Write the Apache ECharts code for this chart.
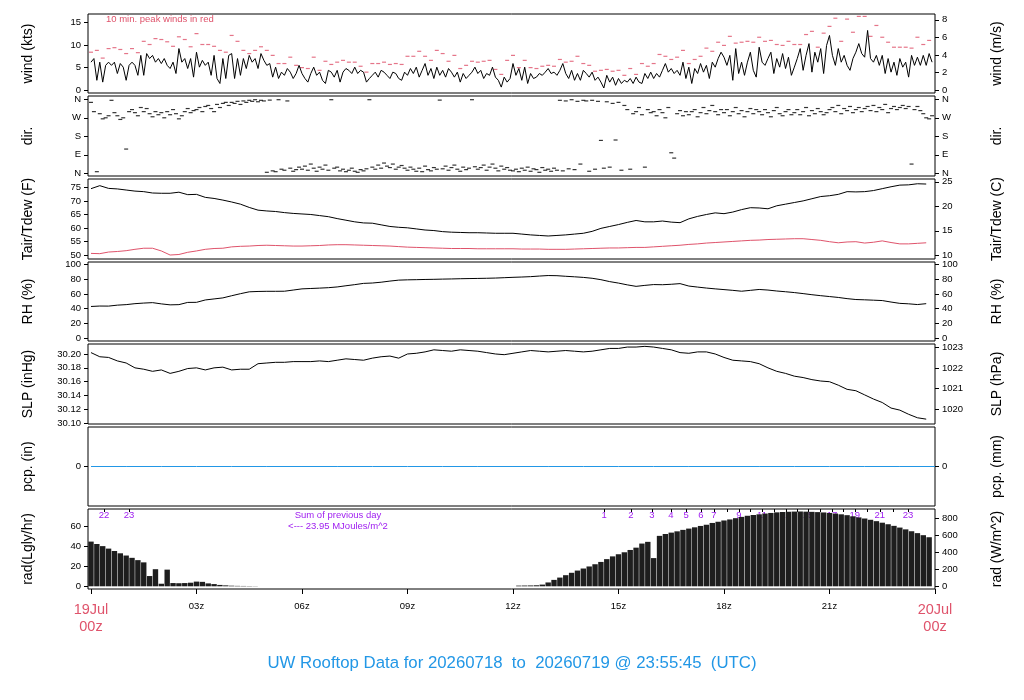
<!DOCTYPE html>
<html>
<head>
<meta charset="utf-8">
<title>UW Rooftop Data</title>
<script src="https://cdn.jsdelivr.net/npm/echarts@6.0.0/dist/echarts.min.js"></script>
<style>
  html, body { margin: 0; padding: 0; background: #fff; }
  #main { width: 1024px; height: 700px; }
</style>
</head>
<body>
<div id="main"></div>
<script>
// ---------- data ----------
// wind speed, knots, every 5 min from 00z
var windKts = [
  6.2,7.0,2.2,6.2,1.8,5.5,6.2,5.5,6.2,3.7,5.9,5.1,
  2.2,5.5,6.2,5.5,3.3,7.7,3.3,8.1,7.0,7.7,6.2,7.0,
  5.9,7.0,5.5,4.8,6.2,3.7,9.2,6.2,7.0,4.8,7.0,2.9,
  8.4,5.1,6.6,5.5,6.2,3.3,7.7,2.6,1.5,7.0,2.6,7.7,
  8.1,2.6,7.0,3.3,7.0,4.8,7.7,6.2,7.0,4.8,8.1,6.6,
  5.5,5.9,2.9,5.1,2.6,4.0,3.3,4.8,4.0,2.6,3.7,5.5,
  3.7,2.6,1.8,3.7,5.1,3.3,4.0,2.2,1.5,4.4,4.0,2.9,
  4.4,1.8,4.0,4.8,4.4,3.7,5.1,3.7,4.4,4.0,1.8,2.6,
  3.3,4.0,2.9,4.4,4.0,3.3,2.6,4.0,3.7,2.6,2.2,4.0,
  3.3,4.8,3.7,5.1,2.9,4.4,5.9,3.3,4.8,2.6,5.1,3.3,
  4.4,2.9,4.8,4.0,2.9,4.0,1.8,3.7,2.6,3.3,4.0,5.1,
  3.7,4.4,2.6,3.7,3.3,5.1,2.9,2.2,0.7,2.9,1.8,2.6,
  5.9,3.3,4.8,2.2,5.1,1.5,3.7,2.6,2.9,3.7,3.3,4.0,
  4.8,3.7,4.0,3.3,4.4,5.9,3.7,2.6,4.4,2.2,3.7,2.2,
  4.4,3.7,2.9,4.0,2.2,2.9,1.8,0.5,3.3,1.8,2.9,1.1,
  2.6,1.5,2.2,1.8,2.6,1.5,2.9,1.8,1.5,3.7,2.6,4.0,
  2.6,3.7,2.9,4.4,5.9,4.0,4.8,3.7,4.4,3.3,6.2,2.6,
  5.1,1.5,4.8,3.7,5.9,4.0,5.5,2.6,6.2,5.1,7.0,8.4,
  7.3,5.5,7.7,2.2,9.2,3.7,6.2,3.3,6.2,8.4,4.4,2.9,
  9.5,6.2,5.5,7.0,8.4,3.7,7.0,5.1,8.1,4.8,7.3,3.3,
  5.1,7.0,9.2,4.4,7.7,10.3,4.0,8.4,6.2,9.2,3.7,9.9,
  12.1,7.7,5.5,9.2,6.2,7.7,5.5,4.4,7.0,8.4,10.3,8.1,
  7.3,13.2,7.0,6.2,7.7,5.5,7.7,3.7,7.0,4.0,6.2,3.3,
  7.0,5.1,6.2,2.9,7.7,5.5,7.3,5.5,7.7,5.5,8.1,6.2
];
// 10-min peak wind, knots
var peakKts = [
  8.4,8.8,7.1,9.2,9.4,9.0,8.1,9.2,8.3,10.8,10.1,11.4,
  11.2,10.7,9.7,11.8,11.2,9.6,12.5,10.1,10.1,9.7,8.8,8.4,
  12.1,10.8,8.8,8.1,8.8,9.6,8.8,7.7,5.9,5.9,7.3,5.5,
  5.0,4.8,7.3,4.4,6.4,5.7,6.2,6.6,6.2,6.2,5.3,4.0,
  5.9,5.9,6.2,5.7,5.9,5.7,7.5,7.5,8.6,7.5,6.6,8.8,
  8.1,6.4,7.7,4.8,5.5,6.4,6.2,6.4,6.6,4.6,3.5,6.6,
  7.7,5.0,6.6,5.0,4.8,5.3,5.5,5.3,6.8,6.2,6.4,7.5,
  5.9,5.5,4.2,4.4,4.6,4.2,4.4,3.3,4.8,3.5,5.9,5.3,
  5.9,7.9,7.5,6.8,7.3,8.8,5.9,6.8,7.5,9.3,8.6,10.6,
  9.9,11.9,10.4,10.6,10.8,10.6,11.7,10.8,11.0,10.1,9.9,10.8,
  10.1,10.1,12.3,13.0,9.5,12.6,14.1,15.9,10.8,15.7,12.8,16.3,
  16.3,11.9,14.3,11.7,10.6,9.5,9.5,9.5,9.3,11.7,10.1,11.0
];
// wind direction, degrees, every 5 min
var dirDeg = [
  345,300,8,290,265,270,280,355,295,280,262,270,
  118,300,310,295,280,320,300,315,290,275,300,285,
  295,270,300,285,310,290,265,280,300,315,295,305,
  310,320,300,325,330,315,300,335,320,340,345,330,
  345,340,350,335,352,345,355,350,358,348,355,352,
  5,356,12,8,358,20,15,352,25,10,18,30,
  20,35,15,45,25,10,30,20,40,15,358,25,
  30,12,20,8,15,25,10,5,18,12,22,358,
  30,20,40,25,50,35,28,45,20,30,38,25,
  15,30,20,10,25,8,35,18,12,28,20,356,
  22,35,15,28,40,20,10,30,18,25,358,32,
  20,28,40,15,30,45,25,12,35,20,28,15,
  12,20,8,25,15,30,10,22,18,5,28,15,
  20,10,25,15,355,12,352,22,358,18,350,45,
  355,352,10,355,20,350,160,25,348,30,340,162,
  345,15,330,310,20,290,300,320,285,30,310,295,
  300,280,310,295,270,320,100,74,290,305,280,300,
  285,300,310,275,295,320,290,305,330,300,285,310,
  295,310,280,300,320,290,305,275,300,315,290,310,
  300,285,310,295,275,305,320,290,280,300,310,285,
  295,310,285,300,320,280,305,290,315,300,285,295,
  310,320,300,330,290,315,305,325,295,310,320,300,
  315,325,305,330,300,320,310,335,295,315,325,310,
  320,330,315,325,45,310,325,305,290,270,265,280
];
// every 15 min
var tairF = [
  74.5,75.6,74.6,74.4,74.0,73.6,73.4,72.9,
  72.8,72.8,73.2,72.3,72.4,71.3,70.9,70.3,
  69.6,68.8,67.6,66.6,66.3,66.1,65.7,65.4,
  65.2,65.0,64.6,64.2,63.5,62.9,62.3,61.9,
  61.8,61.2,60.6,60.3,60.1,59.7,59.3,59.1,
  58.7,58.5,58.4,58.3,58.3,58.2,58.1,58.1,
  58.1,57.8,57.5,57.3,57.1,57.3,57.5,57.8,
  58.1,58.8,59.9,60.6,61.3,62.1,62.8,62.3,
  62.3,62.6,62.2,62.0,63.4,64.3,65.0,65.6,
  65.3,65.9,66.8,67.5,67.4,67.1,68.2,68.8,
  69.4,70.0,70.8,71.6,71.9,72.4,73.4,73.3,
  73.4,73.8,74.5,75.2,75.8,75.9,76.3,76.2
];
var tdewF = [
  50.7,50.6,51.2,51.4,51.7,52.2,52.6,52.6,
  51.6,50.1,50.3,51.1,51.6,52.2,52.5,52.6,
  53.1,53.3,53.4,53.6,53.7,53.6,53.5,53.4,
  53.4,53.5,53.6,53.8,53.9,53.9,53.8,53.7,
  53.6,53.5,53.4,53.2,53.0,52.9,52.8,52.7,
  52.6,52.5,52.5,52.5,52.4,52.4,52.4,52.4,
  52.4,52.3,52.3,52.3,52.2,52.2,52.2,52.3,
  52.4,52.5,52.6,52.7,52.7,52.8,52.9,52.9,
  53.1,53.3,53.5,53.7,54.0,54.2,54.5,54.7,
  54.9,55.1,55.3,55.5,55.6,55.8,55.9,56.0,
  56.1,56.1,55.8,55.5,55.0,54.6,54.9,55.0,
  54.5,54.8,55.3,54.7,54.2,54.2,54.4,54.6
];
var rhPct = [
  43.0,43.6,43.5,44.8,45.5,46.8,47.6,48.2,
  46.5,45.2,45.5,48.5,48.6,51.8,53.2,54.6,
  57.5,60.3,62.8,63.3,63.5,63.5,63.6,65.2,
  66.8,67.3,67.8,68.4,69.4,71.0,72.5,74.2,
  74.7,75.8,77.3,78.6,79.0,79.2,79.5,79.7,
  80.0,80.2,80.5,80.7,80.9,81.1,81.4,81.9,
  82.4,82.8,83.3,84.1,84.8,84.6,83.8,83.1,
  82.3,81.1,79.2,76.6,74.6,72.2,70.2,71.5,
  72.6,72.4,73.0,73.9,70.6,69.2,67.9,66.8,
  65.8,64.8,63.6,64.8,66.0,65.2,63.9,62.9,
  61.8,60.4,58.9,57.6,56.4,55.2,53.6,52.4,
  52.0,51.5,51.0,49.0,47.2,46.6,45.6,46.8
];
var slpInHg = [
  30.202,30.196,30.195,30.190,30.187,30.180,30.178,30.175,
  30.177,30.172,30.175,30.179,30.180,30.177,30.180,30.181,
  30.177,30.178,30.178,30.186,30.187,30.188,30.188,30.189,
  30.189,30.189,30.190,30.189,30.191,30.193,30.192,30.191,
  30.194,30.196,30.197,30.194,30.200,30.201,30.203,30.206,
  30.205,30.204,30.206,30.205,30.204,30.202,30.200,30.199,
  30.201,30.203,30.205,30.204,30.203,30.204,30.205,30.204,
  30.203,30.204,30.206,30.208,30.208,30.210,30.210,30.211,
  30.210,30.208,30.206,30.202,30.201,30.203,30.203,30.200,
  30.195,30.191,30.190,30.189,30.186,30.180,30.175,30.172,
  30.168,30.166,30.163,30.161,30.160,30.155,30.149,30.147,
  30.141,30.135,30.130,30.122,30.119,30.113,30.108,30.106
];
// hourly precipitation, inches
var pcpIn = [0,0,0,0,0,0,0,0,0,0,0,0,0,0,0,0,0,0,0,0,0,0,0,0,0];
// solar radiation, W/m^2, every 10 min
var radWm2 = [
  523,495,470,441,413,386, 360,333,306,280,120,200,
  30,195,38,36,38,42, 55,52,34,26,16,11,
  7,5,4,3,2,0, 0,0,0,0,0,0,
  0,0,0,0,0,0, 0,0,0,0,0,0,
  0,0,0,0,0,0, 0,0,0,0,0,0,
  0,0,0,0,0,0, 0,0,0,0,0,0,
  0,8,9,10,12,20, 45,75,102,130,158,184,
  208,232,258,285,318,350, 375,398,425,452,500,520,
  330,590,612,628,643,660, 675,690,706,720,741,755,
  770,782,797,812,825,834, 842,851,858,865,869,872,
  874,875,873,871,868,864, 858,851,842,832,819,806,
  793,778,762,744,726,707, 687,666,644,622,598,574
];
// cumulative MJ/m^2 markers (hour of day, label)
var mjHours = [0.37,1.08,14.59,15.35,15.95,16.49,16.92,17.34,17.71,18.08,18.42,18.75,19.08,
               19.42,19.76,20.08,20.39,20.73,21.07,21.40,21.72,22.07,22.43,22.82,23.23];
var mjText  = ['22','23','1','2','3','4','5','6','7','','9','','11',
               '','13','','15','','17','','19','','21','','23'];
var xTickHours = [0,3,6,9,12,15,18,21,24];
var xTickText  = ['19Jul\n00z','03z','06z','09z','12z','15z','18z','21z','20Jul\n00z'];

// ---------- helpers ----------
function toXY(arr, stepMin) {
  return arr.map(function (v, i) { return [i * stepMin / 60, v]; });
}
var FONT = 'Liberation Sans, Arial, Helvetica, sans-serif';
var RED = '#DF536B', BLUE = '#2297E6', PURPLE = '#A020F0';
var compass = {0: 'N', 90: 'E', 180: 'S', 270: 'W', 360: 'N'};

var panels = [
  {top: 14,  h: 79, ln: 'wind (kts)', rn: 'wind (m/s)', lmin: -0.6, lmax: 16.83, lt: [0,5,10,15],
   rmin: -0.309, rmax: 8.657, rt: [0,2,4,6,8]},
  {top: 96,  h: 80, ln: 'dir.', rn: 'dir.', lmin: -13, lmax: 376, lt: [0,90,180,270,360],
   rmin: -13, rmax: 376, rt: [0,90,180,270,360], fmt: function (v) { return compass[v]; }},
  {top: 179, h: 80, ln: 'Tair/Tdew (F)', rn: 'Tair/Tdew (C)', lmin: 48.64, lmax: 78.05, lt: [50,55,60,65,70,75],
   rmin: 9.24, rmax: 25.58, rt: [10,15,20,25]},
  {top: 262, h: 79, ln: 'RH (%)', rn: 'RH (%)', lmin: -3.65, lmax: 103.1, lt: [0,20,40,60,80,100],
   rmin: -3.65, rmax: 103.1, rt: [0,20,40,60,80,100]},
  {top: 344, h: 80, ln: 'SLP (inHg)', rn: 'SLP (hPa)', lmin: 30.099, lmax: 30.2144,
   lt: [30.10,30.12,30.14,30.16,30.18,30.20], lfmt: function (v) { return v.toFixed(2); },
   rmin: 1019.28, rmax: 1023.18, rt: [1020,1021,1022,1023]},
  {top: 427, h: 79, ln: 'pcp. (in)', rn: 'pcp. (mm)', lmin: -1, lmax: 1, lt: [0],
   rmin: -25.4, rmax: 25.4, rt: [0]},
  {top: 509, h: 80, ln: 'rad(Lgly/hr)', rn: 'rad (W/m^2)', lmin: -2.72, lmax: 77.8, lt: [0,20,40,60],
   rmin: -31.6, rmax: 904.2, rt: [0,200,400,600,800]}
];

var grids = [], xAxes = [], yAxes = [];
panels.forEach(function (p, i) {
  grids.push({left: 88, width: 847, top: p.top, height: p.h, show: true,
              borderColor: '#000', borderWidth: 1, containLabel: false});
  var last = i === panels.length - 1;
  xAxes.push({
    gridIndex: i, type: 'value', min: -0.085, max: 24,
    axisLine: {show: false, onZero: false}, splitLine: {show: false},
    axisTick: {show: last, length: 5, lineStyle: {color: '#000'}, customValues: xTickHours},
    axisLabel: {
      show: last, margin: 12, customValues: xTickHours,
      formatter: function (v) {
        var t = xTickText[xTickHours.indexOf(v)] || '';
        if (t.indexOf('\n') >= 0) {
          var s = t.split('\n');
          return '{d|' + s[0] + '}\n{d|' + s[1] + '}';
        }
        return '{s|' + t + '}';
      },
      rich: {
        d: {fontSize: 14.5, color: RED, lineHeight: 17, fontFamily: FONT},
        s: {fontSize: 9.5, color: '#000', fontFamily: FONT}
      }
    }
  });
  [['left', p.ln, p.lmin, p.lmax, p.lt, p.lfmt || p.fmt, 53],
   ['right', p.rn, p.rmin, p.rmax, p.rt, p.fmt, 55]].forEach(function (a) {
    yAxes.push({
      gridIndex: i, type: 'value', position: a[0], min: a[2], max: a[3],
      name: a[1], nameLocation: 'middle', nameGap: a[6], nameRotate: 90,
      nameTextStyle: {fontSize: 14, color: '#000', fontFamily: FONT},
      axisLine: {show: false, onZero: false}, splitLine: {show: false},
      axisTick: {show: true, length: 4, lineStyle: {color: '#000'}, customValues: a[4]},
      axisLabel: {show: true, margin: 7, fontSize: 9.5, color: '#000', fontFamily: FONT,
                  customValues: a[4], formatter: a[5] || function (v) { return String(v); }}
    });
  });
});
// cumulative MJ markers along the top of the radiation panel
xAxes.push({
  gridIndex: 6, type: 'value', position: 'top', min: -0.085, max: 24,
  axisLine: {show: false, onZero: false}, splitLine: {show: false},
  axisTick: {show: true, inside: true, length: 3, lineStyle: {color: '#000'}, customValues: mjHours},
  axisLabel: {show: true, inside: true, margin: 1, fontSize: 9.5, color: PURPLE, fontFamily: FONT,
              customValues: mjHours,
              formatter: function (v) { return mjText[mjHours.indexOf(v)] || ''; }}
});

var lineStyle = function (c) {
  return {type: 'line', showSymbol: false, symbol: 'none', lineStyle: {color: c, width: 1}, silent: true};
};
var series = [
  Object.assign(lineStyle('#000'), {xAxisIndex: 0, yAxisIndex: 0, data: toXY(windKts, 5)}),
  {type: 'scatter', xAxisIndex: 0, yAxisIndex: 0, symbol: 'rect', symbolSize: [4, 1.2],
   itemStyle: {color: RED}, data: toXY(peakKts, 10), silent: true},
  {type: 'scatter', xAxisIndex: 1, yAxisIndex: 2, symbol: 'rect', symbolSize: [4, 1.2],
   itemStyle: {color: '#000'}, data: toXY(dirDeg, 5), silent: true},
  Object.assign(lineStyle('#000'), {xAxisIndex: 2, yAxisIndex: 4, data: toXY(tairF, 15)}),
  Object.assign(lineStyle(RED), {xAxisIndex: 2, yAxisIndex: 4, data: toXY(tdewF, 15)}),
  Object.assign(lineStyle('#000'), {xAxisIndex: 3, yAxisIndex: 6, data: toXY(rhPct, 15)}),
  Object.assign(lineStyle('#000'), {xAxisIndex: 4, yAxisIndex: 8, data: toXY(slpInHg, 15)}),
  Object.assign(lineStyle(BLUE), {xAxisIndex: 5, yAxisIndex: 10, data: toXY(pcpIn, 60)}),
  {type: 'bar', xAxisIndex: 6, yAxisIndex: 13, barWidth: 5.4, itemStyle: {color: '#1e1e1e'},
   data: toXY(radWm2, 10), silent: true}
];

var chart = echarts.init(document.getElementById('main'), null, {renderer: 'canvas'});
chart.setOption({
  animation: false,
  backgroundColor: '#fff',
  textStyle: {fontFamily: FONT},
  title: {
    text: 'UW Rooftop Data for 20260718  to  20260719 @ 23:55:45  (UTC)',
    left: 'center', top: 650,
    textStyle: {color: BLUE, fontSize: 16.8, fontWeight: 'normal', fontFamily: FONT}
  },
  grid: grids, xAxis: xAxes, yAxis: yAxes, series: series,
  graphic: [
    {type: 'text', left: 106, top: 14,
     style: {text: '10 min. peak winds in red', fill: RED, font: '9.5px ' + FONT}},
    {type: 'text', x: 338, y: 515,
     style: {text: 'Sum of previous day', fill: PURPLE, font: '9.5px ' + FONT,
             align: 'center', verticalAlign: 'middle'}},
    {type: 'text', x: 338, y: 526,
     style: {text: '<--- 23.95 MJoules/m^2', fill: PURPLE, font: '9.5px ' + FONT,
             align: 'center', verticalAlign: 'middle'}}
  ]
});
</script>
</body>
</html>
